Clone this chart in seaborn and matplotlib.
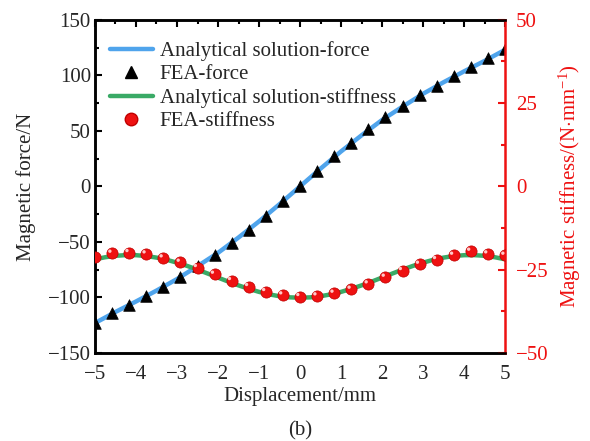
import numpy as np
import pandas as pd
import matplotlib
matplotlib.use("Agg")
import matplotlib.pyplot as plt
import matplotlib.transforms as mtransforms
import seaborn as sns
from matplotlib.ticker import MultipleLocator
from matplotlib.lines import Line2D

# ---- data ----
x_fea = [-5.0, -4.583, -4.167, -3.75, -3.333, -2.917, -2.5, -2.083, -1.667, -1.25, -0.833, -0.417,
         0.0, 0.417, 0.833, 1.25, 1.667, 2.083, 2.5, 2.917, 3.333, 3.75, 4.167, 4.583, 5.0]
force_fea = [-123.0, -114.0, -106.5, -99.0, -90.4, -81.8, -71.8, -61.7, -50.9, -38.8, -26.3, -13.5,
             0.0, 13.8, 27.0, 39.2, 51.3, 62.2, 72.5, 82.2, 90.8, 99.3, 107.2, 115.3, 123.8]
stiff_fea = [-21.1, -20.1, -19.9, -20.3, -21.5, -22.8, -24.4, -26.4, -28.3, -30.1, -31.6, -32.6,
             -33.1, -32.9, -32.1, -30.9, -29.3, -27.3, -25.3, -23.4, -22.0, -20.7, -19.5, -20.3, -20.7]

x_force_line = [-5.0, -4.5, -4.0, -3.5, -3.0, -2.5, -2.0, -1.5, -1.0, -0.5, 0.0,
                0.5, 1.0, 1.5, 2.0, 2.5, 3.0, 3.5, 4.0, 4.5, 5.0]
force_line = [-123.0, -113.0, -103.6, -93.8, -83.4, -71.8, -59.8, -46.0, -31.5, -16.0, 0.0,
              16.0, 31.5, 46.0, 59.8, 71.8, 83.4, 93.8, 103.6, 113.0, 123.0]

x_stiff_line = [-5.0, -4.75, -4.5, -4.25, -4.0, -3.75, -3.5, -3.25, -3.0, -2.75, -2.5, -2.25, -2.0,
                -1.75, -1.5, -1.25, -1.0, -0.75, -0.5, -0.25, 0.0, 0.25, 0.5, 0.75, 1.0, 1.25,
                1.5, 1.75, 2.0, 2.25, 2.5, 2.75, 3.0, 3.25, 3.5, 3.75, 4.0, 4.25, 4.5, 4.75, 5.0]
stiff_line = [-21.86, -21.25, -20.82, -20.62, -20.64, -20.89, -21.36, -22.02, -22.88, -23.87, -24.97,
              -26.15, -27.36, -28.56, -29.70, -30.74, -31.65, -32.40, -32.95, -33.29, -33.40,
              -33.29, -32.95, -32.40, -31.65, -30.74, -29.70, -28.56, -27.36, -26.15, -24.97,
              -23.87, -22.88, -22.02, -21.36, -20.89, -20.64, -20.62, -20.82, -21.25, -21.86]

x_ticks = [-5, -4, -3, -2, -1, 0, 1, 2, 3, 4, 5]
left_ticks = [-150, -100, -50, 0, 50, 100, 150]
right_ticks = [-50, -25, 0, 25, 50]

sns.set_style("white")
plt.rcParams['font.family'] = ['Liberation Serif', 'DejaVu Serif']
plt.rcParams['mathtext.fontset'] = 'custom'
plt.rcParams['mathtext.rm'] = 'Liberation Serif'
plt.rcParams['mathtext.it'] = 'Liberation Serif:italic'
FS = 15

blue = '#4fa4ec'
green = '#3aaa66'
red = '#ee1111'

fig = plt.figure(figsize=(5.9, 4.41), dpi=100)
ax = fig.add_axes([0.161, 0.1995, 0.695, 0.7555])
ax2 = ax.twinx()

df_fl = pd.DataFrame({'x': x_force_line, 'y': force_line})
df_ff = pd.DataFrame({'x': x_fea, 'y': force_fea})
df_sl = pd.DataFrame({'x': x_stiff_line, 'y': stiff_line})
df_sf = pd.DataFrame({'x': x_fea, 'y': stiff_fea})

sns.lineplot(data=df_fl, x='x', y='y', ax=ax, color=blue, lw=3.2, zorder=2)
sns.scatterplot(data=df_ff, x='x', y='y', ax=ax, marker='^', color='black', s=70,
                edgecolor='black', linewidth=0.5, zorder=3)
sns.lineplot(data=df_sl, x='x', y='y', ax=ax2, color=green, lw=3.2, zorder=2)
sns.scatterplot(data=df_sf, x='x', y='y', ax=ax2, marker='o', color=red, s=65,
                edgecolor='#c00000', linewidth=0.5, zorder=3)
# specular highlight on the spheres
hl = mtransforms.offset_copy(ax2.transData, fig=fig, x=-1.6, y=1.6, units='points')
ax2.scatter(x_fea, stiff_fea, s=6, color='#ffc8c8', edgecolor='none', transform=hl, zorder=4)

ax.set_xlim(-5, 5)
ax.set_ylim(-150, 150)
ax2.set_ylim(-50, 50)
ax.set_xticks(x_ticks)
ax.set_yticks(left_ticks)
ax2.set_yticks(right_ticks)
ax.xaxis.set_minor_locator(MultipleLocator(0.5))
ax.yaxis.set_minor_locator(MultipleLocator(25))
ax2.yaxis.set_minor_locator(MultipleLocator(12.5))

ax.set_xlabel('Displacement/mm', fontsize=FS, labelpad=2)
ax.set_ylabel('Magnetic force/N', fontsize=FS, labelpad=8.5)
ax2.set_ylabel('Magnetic stiffness/(N$\\cdot$mm$^{-1}$)', fontsize=FS, color=red, labelpad=6)

ax.tick_params(axis='y', which='major', direction='in', length=5, width=1.5,
               labelsize=FS, right=False, color='black', pad=3)
ax.tick_params(axis='x', which='major', direction='in', length=5, width=1.5,
               labelsize=FS, top=True, color='black', pad=8.5)
ax.tick_params(axis='both', which='minor', direction='in', length=3, width=1.5,
               top=True, right=False, color='black')
ax2.tick_params(axis='y', which='major', direction='in', length=5, width=1.5,
                labelsize=FS, colors=red, pad=8)
ax2.tick_params(axis='y', which='minor', direction='in', length=3, width=1.5, colors=red)

for s in ['left', 'bottom', 'top']:
    ax.spines[s].set_linewidth(1.8)
    ax.spines[s].set_color('black')
    ax2.spines[s].set_linewidth(1.8)
    ax2.spines[s].set_color('black')
ax2.spines['right'].set_color(red)
ax2.spines['right'].set_linewidth(1.8)
ax.spines['right'].set_visible(False)

handles = [
    Line2D([], [], color=blue, lw=3.2),
    Line2D([], [], marker='^', color='black', ls='none', markersize=9),
    Line2D([], [], color=green, lw=3.2),
    Line2D([], [], marker='o', color=red, markeredgecolor='#c00000', ls='none', markersize=9),
]
labels = ['Analytical solution-force', 'FEA-force',
          'Analytical solution-stiffness', 'FEA-stiffness']
ax2.legend(handles, labels, loc='upper left', frameon=False, fontsize=FS,
           handlelength=2.1, handletextpad=0.3, labelspacing=0.18,
           borderaxespad=0.3, bbox_to_anchor=(0.0, 0.98))

fig.text(0.508, 0.022, '(b)', ha='center', va='center', fontsize=FS)

fig.savefig('out.png', dpi=100)
